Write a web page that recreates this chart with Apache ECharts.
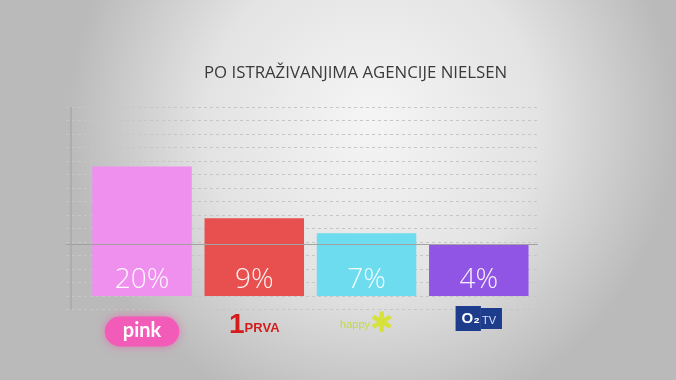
<!DOCTYPE html>
<html>
<head>
<meta charset="utf-8">
<script src="https://cdn.jsdelivr.net/npm/echarts@6/dist/echarts.min.js"></script>
<style>html,body{margin:0;padding:0;}#c{width:676px;height:380px;}</style>
</head>
<body>
<div id="c"></div>
<script>
const titleText = 'PO ISTRAŽIVANJIMA AGENCIJE NIELSEN';
const channels = ['pink', 'prva', 'happy', 'o2'];
const shareLabels = ['20%', '9%', '7%', '4%'];
const barHeights = [9.6, 5.76, 4.65, 3.84];
const barColors = ['#ef90ef', '#e84f4f', '#6ddcef', '#9155e6'];
const referenceLevel = 3.84;

const chart = echarts.init(document.getElementById('c'));
const logoFormatter = function (v) {
  if (v === 'pink') return '{sp|}{pk|pink}';
  if (v === 'prva') return '{one|1}{prva|PRVA}';
  if (v === 'happy') return '{hp|happy}{st|✱}';
  return '{o2|O₂}{tv|TV}';
};
chart.setOption({
  backgroundColor: {
    type: 'radial', x: 0.55, y: 0.32, r: 0.8,
    colorStops: [
      { offset: 0, color: '#f5f5f5' },
      { offset: 0.55, color: '#e3e3e3' },
      { offset: 1, color: '#bababa' }
    ]
  },
  title: {
    text: titleText, left: 199, top: 60,
    textStyle: { fontFamily: 'Open Sans', fontSize: 16.8, fontWeight: 'normal', color: '#3a3a3a' }
  },
  grid: [
    { left: 66, right: 138, top: 107, bottom: 70.5 },
    { left: 85.9, right: 141.1, top: 107, bottom: 70.5 }
  ],
  xAxis: [
    { gridIndex: 0, type: 'value', min: 0, max: 1, show: false },
    {
      gridIndex: 1, type: 'category', data: channels,
      axisLine: { show: false }, axisTick: { show: false },
      axisLabel: {
        interval: 0, margin: 1, formatter: logoFormatter,
        rich: {
          sp: { lineHeight: 42, width: 0 },
          pk: { backgroundColor: '#f25cb8', color: '#fff', fontFamily: 'Lato', fontWeight: 'bold', fontSize: 20,
                padding: [4, 18, 6, 18], borderRadius: 16, shadowColor: 'rgba(240,80,170,0.6)', shadowBlur: 8 },
          one: { color: '#d41c1c', fontFamily: 'Liberation Sans', fontWeight: 'bold', fontSize: 28, lineHeight: 29 },
          prva: { color: '#d41c1c', fontFamily: 'Liberation Sans', fontWeight: 'bold', fontSize: 13, padding: [6, 0, 0, 0] },
          hp: { color: '#c4da3c', fontFamily: 'Liberation Sans', fontSize: 11 },
          st: { color: '#d6e23a', fontSize: 28, lineHeight: 28 },
          o2: { backgroundColor: '#1e3c8c', color: '#fff', fontFamily: 'Liberation Sans', fontWeight: 'bold', fontSize: 15,
                padding: [5, 1, 5, 6], lineHeight: 16 },
          tv: { backgroundColor: '#1e3c8c', color: '#d8e0ff', fontFamily: 'Liberation Sans', fontSize: 11,
                padding: [7, 6, 3, 1], lineHeight: 16 }
        }
      }
    }
  ],
  yAxis: [
    {
      gridIndex: 0, type: 'value', min: -1, max: 14, interval: 1,
      axisLine: { show: false },
      axisTick: { show: false }, axisLabel: { show: false },
      splitLine: { show: true, lineStyle: { color: '#c6c6c6', type: [3, 3], width: 1 } }
    },
    { gridIndex: 1, type: 'value', min: -1, max: 14, interval: 1, show: false, splitLine: { show: false } }
  ],
  series: [
    {
      type: 'line', xAxisIndex: 0, yAxisIndex: 0, data: [], silent: true,
      markLine: {
        symbol: 'none', silent: true, label: { show: false },
        data: [
          { yAxis: referenceLevel, lineStyle: { type: 'solid', color: '#a2a2a2', width: 1.2 } },
          { xAxis: 0.0085, lineStyle: { type: 'solid', color: '#a8a8a8', width: 1.5 } }
        ]
      }
    },
    {
      type: 'bar', xAxisIndex: 1, yAxisIndex: 1, barWidth: 99.5,
      data: barHeights.map((v, i) => ({ value: v, itemStyle: { color: barColors[i] } })),
      label: {
        show: true, position: 'insideBottom', distance: 2,
        formatter: p => shareLabels[p.dataIndex],
        color: 'rgba(255,255,255,0.92)', fontFamily: 'Open Sans', fontWeight: 300, fontSize: 28
      }
    }
  ]
});
</script>
</body>
</html>
